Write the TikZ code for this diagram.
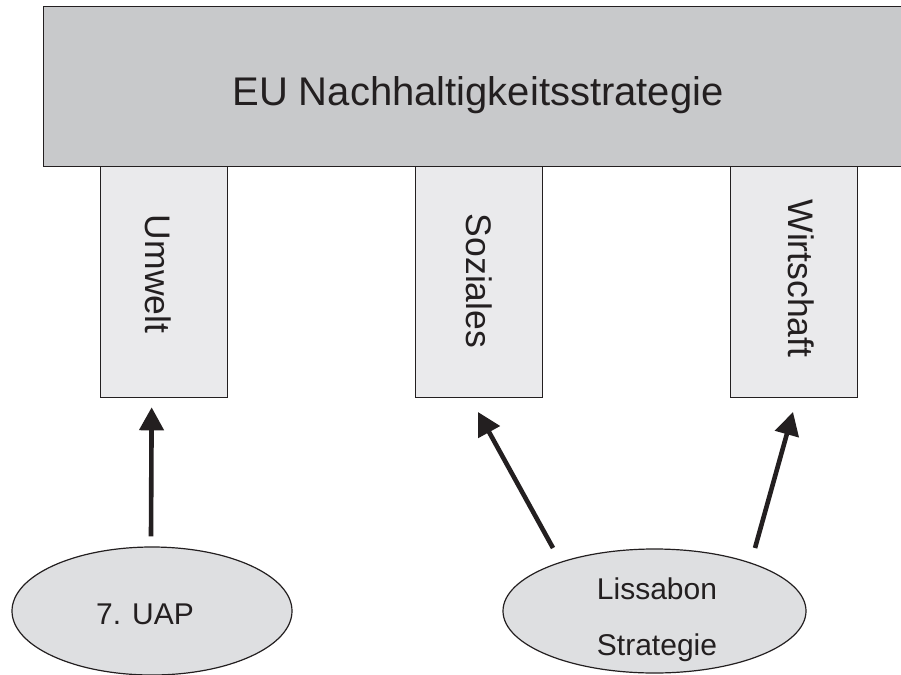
\documentclass[tikz,border=0pt]{standalone}
\usepackage{fontspec}
\setmainfont{Liberation Sans}
\usetikzlibrary{shapes.geometric,arrows.meta,calc}
\definecolor{ink}{HTML}{231F20}
\definecolor{topgray}{HTML}{C8C9CB}
\definecolor{pillargray}{HTML}{EAEAEC}
\definecolor{ovalgray}{HTML}{DEDFE1}
\tikzset{
  topbox/.style={draw=ink, fill=topgray, line width=1.4pt, minimum width=868pt, minimum height=160pt, inner sep=0pt, anchor=north west},
  pillar/.style={draw=ink, fill=pillargray, line width=1.3pt, minimum width=127pt, minimum height=231pt, inner sep=0pt, anchor=north west},
  vlabel/.style={rotate=-90, text=ink, font=\fontsize{35.5}{40}\selectfont, inner sep=0pt},
  oval/.style={ellipse, draw=ink, fill=ovalgray, line width=1.2pt, inner sep=0pt},
  ovaltext/.style={text=ink, font=\fontsize{30}{56}\selectfont, align=center, inner sep=0pt},
  bigarrow/.style={draw=ink, line width=4.6pt, -{Triangle[length=23pt,width=24pt]}}
}
\begin{document}
\begin{tikzpicture}[x=1pt,y=-1pt]
\useasboundingbox (0,0) rectangle (901,674);
\clip (0,0) rectangle (901,674);
\fill[white] (0,0) rectangle (901,674);
% top box
\node[topbox] (eu) at (43,6) {};
\node[text=ink, font=\fontsize{40}{44}\selectfont, inner sep=0pt] (eutext) at (478,95) {EU Nachhaltigkeitsstrategie};
% pillars
\node[pillar] (umwelt) at (99.5,166) {};
\node[pillar] (soziales) at (415,166) {};
\node[pillar] (wirtschaft) at (729.5,166) {};
\node[vlabel] (umweltt) at (158,274) {Umwelt};
\node[vlabel] (sozialest) at (479.5,281) {Soziales};
\node[vlabel] (wirtschaftt) at (801,278.5) {Wirtschaft};
% ovals
\node[oval, minimum width=280pt, minimum height=128pt] (uap) at (152,611) {};
\node[ovaltext] (uaptext) at (145,614.5) {7. UAP};
\node[oval, minimum width=303pt, minimum height=124pt] (liss) at (654.5,611) {};
\node[ovaltext] (lisstext) at (657,620) {Lissabon\\Strategie};
% arrow ends
\coordinate (a1s) at ($(uap.north)+(-1,-10)$);
\coordinate (a1e) at ($(umwelt.south)+(-12,9)$);
\coordinate (a2s) at (553,548);
\coordinate (a2e) at (478,412);
\coordinate (a3s) at (755,548);
\coordinate (a3e) at (793,412);
\draw[bigarrow] (a1s) -- (a1e);
\draw[bigarrow] (a2s) -- (a2e);
\draw[bigarrow] (a3s) -- (a3e);
\end{tikzpicture}
\end{document}
